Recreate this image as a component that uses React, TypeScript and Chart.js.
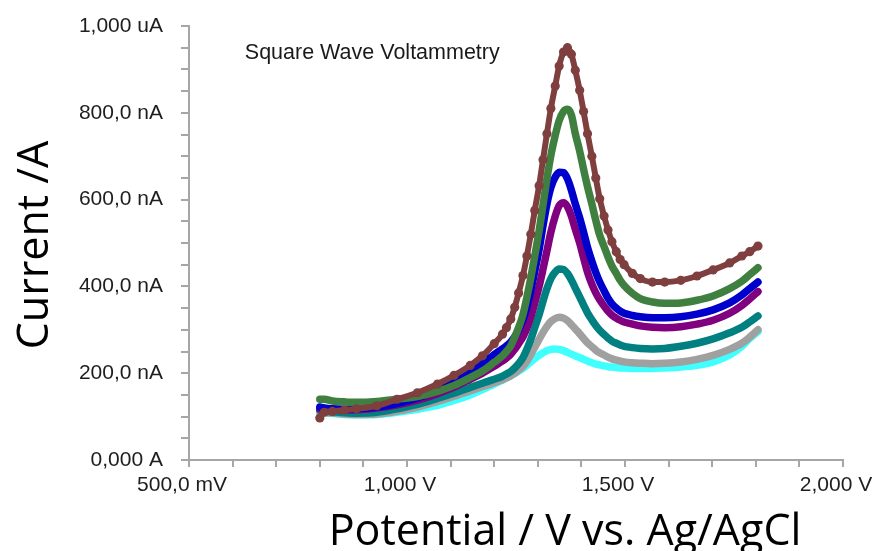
import React, { useEffect, useRef } from "react";
import { Chart, registerables } from "chart.js";

Chart.register(...registerables);

// Potential (V vs. Ag/AgCl)
const potentials = [
  0.8, 0.81, 0.829, 0.857, 0.884, 0.931, 0.977, 1.024, 1.07, 1.108, 1.145,
  1.173, 1.2, 1.219, 1.228, 1.238, 1.247, 1.256, 1.266, 1.275, 1.284, 1.293,
  1.303, 1.312, 1.321, 1.33, 1.34, 1.349, 1.359, 1.368, 1.377, 1.386, 1.396,
  1.405, 1.414, 1.424, 1.433, 1.442, 1.452, 1.461, 1.47, 1.48, 1.489, 1.498,
  1.517, 1.535, 1.563, 1.591, 1.628, 1.665, 1.702, 1.74, 1.768, 1.786, 1.805,
];

// Currents in nA
const brownSeries = [
  97, 110, 112, 115, 118, 125, 140, 155, 175, 195, 218, 240, 268,
  290, 305, 325, 352, 385, 425, 470, 520, 575, 632, 692, 752, 810,
  862, 908, 940, 950, 935, 898, 852, 803, 752, 700, 650, 602, 562,
  530, 503, 480, 462, 450, 430, 418, 410, 410, 414, 424, 438, 454,
  470, 480, 493,
];
const greenSeries = [
  140, 140, 136, 134, 133, 135, 140, 146, 158, 172, 190, 205, 225,
  240, 250, 263, 283, 305, 335, 375, 420, 470, 528, 588, 648, 702,
  748, 782, 803, 808, 795, 752, 712, 670, 630, 590, 552, 518, 492,
  468, 447, 430, 414, 402, 384, 372, 364, 361, 362, 368, 378, 395,
  412, 427, 443,
];
const blueSeries = [
  122, 120, 118, 117, 118, 122, 130, 143, 160, 180, 203, 222, 243,
  256, 263, 272, 284, 300, 323, 352, 390, 435, 485, 540, 590, 628,
  652, 663, 662, 648, 622, 590, 558, 525, 490, 458, 432, 410, 390,
  373, 360, 350, 343, 338, 333, 330, 328, 328, 330, 336, 346, 362,
  380, 395, 410,
];
const purpleSeries = [
  118, 117, 116, 115, 116, 120, 127, 138, 153, 168, 186, 200, 216,
  228, 235, 244, 255, 268, 284, 304, 330, 362, 400, 440, 482, 525,
  562, 586, 593, 584, 562, 532, 500, 466, 433, 405, 385, 369, 355,
  343, 334, 327, 322, 318, 313, 309, 306, 305, 307, 313, 322, 338,
  356, 371, 388,
];
const tealSeries = [
  115, 113, 111, 109, 108, 110, 118, 128, 142, 154, 167, 177, 186,
  193, 198, 204, 212, 222, 236, 255, 278, 305, 335, 366, 395, 418,
  433, 440, 439, 430, 415, 396, 376, 357, 339, 323, 310, 299, 289,
  281, 274, 269, 265, 262, 259, 257, 256, 257, 262, 269, 279, 293,
  306, 318, 332,
];
const graySeries = [
  112, 110, 108, 106, 105, 106, 112, 122, 135, 147, 159, 169, 178,
  185, 189, 194, 200, 207, 216, 228, 243, 260, 278, 294, 308, 319,
  326, 329, 327, 321, 312, 302, 291, 280, 270, 261, 253, 247, 242,
  237, 233, 230, 228, 226, 224, 223, 222, 223, 226, 232, 241, 255,
  269, 283, 300,
];
const cyanSeries = [
  110, 109, 107, 105, 104, 105, 110, 117, 126, 137, 150, 162, 175,
  184, 189, 194, 199, 205, 211, 218, 226, 234, 241, 247, 252, 255,
  256, 255, 252, 248, 244, 240, 236, 232, 228, 224, 221, 219, 217,
  215, 214, 213, 212, 212, 211, 211, 211, 212, 214, 218, 226, 242,
  262, 280, 296,
];

const seriesList = [
  brownSeries,
  greenSeries,
  blueSeries,
  purpleSeries,
  tealSeries,
  graySeries,
  cyanSeries,
];
const seriesColors = [
  "#7f3f3f",
  "#3f7f3f",
  "#0000cc",
  "#800080",
  "#008080",
  "#a0a0a0",
  "#40ffff",
];

const xTickValues = [0.5, 1.0, 1.5, 2.0];
const xTickLabels = ["500,0 mV", "1,000 V", "1,500 V", "2,000 V"];
const yTickValues = [0, 200, 400, 600, 800, 1000];
const yTickLabels = ["0,000 A", "200,0 nA", "400,0 nA", "600,0 nA", "800,0 nA", "1,000 uA"];

const annotationText = "Square Wave Voltammetry";
const annotationX = 0.628;
const annotationY = 938;
const xTitle = "Potential / V vs. Ag/AgCl";
const yTitle = "Current /A";

const TICK_FONT = '21px "Liberation Sans", Arial, sans-serif';

function labelFor(values: number[], labels: string[], v: number) {
  for (let i = 0; i < values.length; i++) {
    if (Math.abs(values[i] - v) < 1e-6) return labels[i];
  }
  return "";
}

export default function App() {
  const ref = useRef<HTMLCanvasElement>(null);

  useEffect(() => {
    document.body.style.margin = "0";
    const canvas = ref.current;
    if (!canvas) return;

    const textPlugin = {
      id: "texts",
      afterDraw(chart: any) {
        const { ctx, scales } = chart;
        ctx.save();
        ctx.fillStyle = "#1a1a1a";
        ctx.font = '21.5px "Liberation Sans", Arial, sans-serif';
        ctx.textBaseline = "middle";
        ctx.textAlign = "left";
        ctx.fillText(
          annotationText,
          scales.x.getPixelForValue(annotationX),
          scales.y.getPixelForValue(annotationY)
        );
        // x tick labels
        ctx.font = TICK_FONT;
        ctx.fillStyle = "#1e1e1e";
        ctx.textBaseline = "middle";
        ctx.textAlign = "center";
        xTickValues.forEach((v, i) => {
          const px = scales.x.getPixelForValue(v);
          ctx.fillText(xTickLabels[i], px - 7, 485);
        });
        // titles
        ctx.fillStyle = "#000";
        ctx.font = '43px "Open Sans", sans-serif';
        ctx.textAlign = "center";
        ctx.textBaseline = "alphabetic";
        ctx.fillText(xTitle, 565, 545);
        ctx.translate(48, 245);
        ctx.rotate(-Math.PI / 2);
        ctx.fillText(yTitle, 0, 0);
        ctx.restore();
      },
    };

    const datasets = seriesList.map((s, k) => ({
      label: "s" + k,
      data: potentials.map((x, i) => ({ x, y: s[i] })),
      showLine: true,
      borderColor: seriesColors[k],
      backgroundColor: seriesColors[k],
      borderWidth: k === 0 ? 6 : 7.5,
      pointRadius: k === 0 ? 4.6 : 0,
      pointBorderWidth: 0,
      borderCapStyle: "round",
      borderJoinStyle: "round",
      cubicInterpolationMode: "monotone",
    }));

    const chart = new Chart(canvas, {
      type: "scatter",
      data: { datasets } as any,
      options: {
        responsive: false,
        animation: false,
        layout: { padding: { top: 26, right: 34, left: 0, bottom: 0 } },
        plugins: {
          legend: { display: false },
          tooltip: { enabled: false },
        },
        scales: {
          x: {
            type: "linear",
            min: 0.5,
            max: 2.0,
            afterBuildTicks: (s: any) => {
              const t = [];
              for (let i = 5; i <= 20; i++) t.push({ value: i / 10 });
              s.ticks = t;
            },
            afterFit: (s: any) => {
              s.height = 91;
              s.paddingLeft = 0;
              s.paddingRight = 0;
            },
            grid: {
              drawOnChartArea: false,
              drawTicks: true,
              tickLength: 7,
              color: "#a6a6a6",
              lineWidth: 2,
            },
            border: { display: true, color: "#a6a6a6", width: 2 },
            ticks: {
              autoSkip: false,
              maxRotation: 0,
              display: false,
            },
          },
          y: {
            type: "linear",
            min: 0,
            max: 1000,
            afterBuildTicks: (s: any) => {
              const t = [];
              for (let i = 0; i <= 20; i++) t.push({ value: i * 50 });
              s.ticks = t;
            },
            afterFit: (s: any) => {
              s.width = 189;
              s.paddingTop = 0;
              s.paddingBottom = 0;
            },
            grid: {
              drawOnChartArea: false,
              drawTicks: true,
              tickLength: 8,
              color: "#a6a6a6",
              lineWidth: 2,
            },
            border: { display: true, color: "#a6a6a6", width: 2 },
            ticks: {
              autoSkip: false,
              padding: 18,
              color: "#1e1e1e",
              font: { family: '"Liberation Sans", Arial, sans-serif', size: 21 },
              callback: (v: any) => labelFor(yTickValues, yTickLabels, Number(v)),
            },
          },
        },
      },
      plugins: [textPlugin],
    } as any);

    return () => chart.destroy();
  }, []);

  return (
    <div style={{ width: 877, height: 551 }}>
      <canvas ref={ref} width={877} height={551} style={{ display: "block" }} />
    </div>
  );
}
